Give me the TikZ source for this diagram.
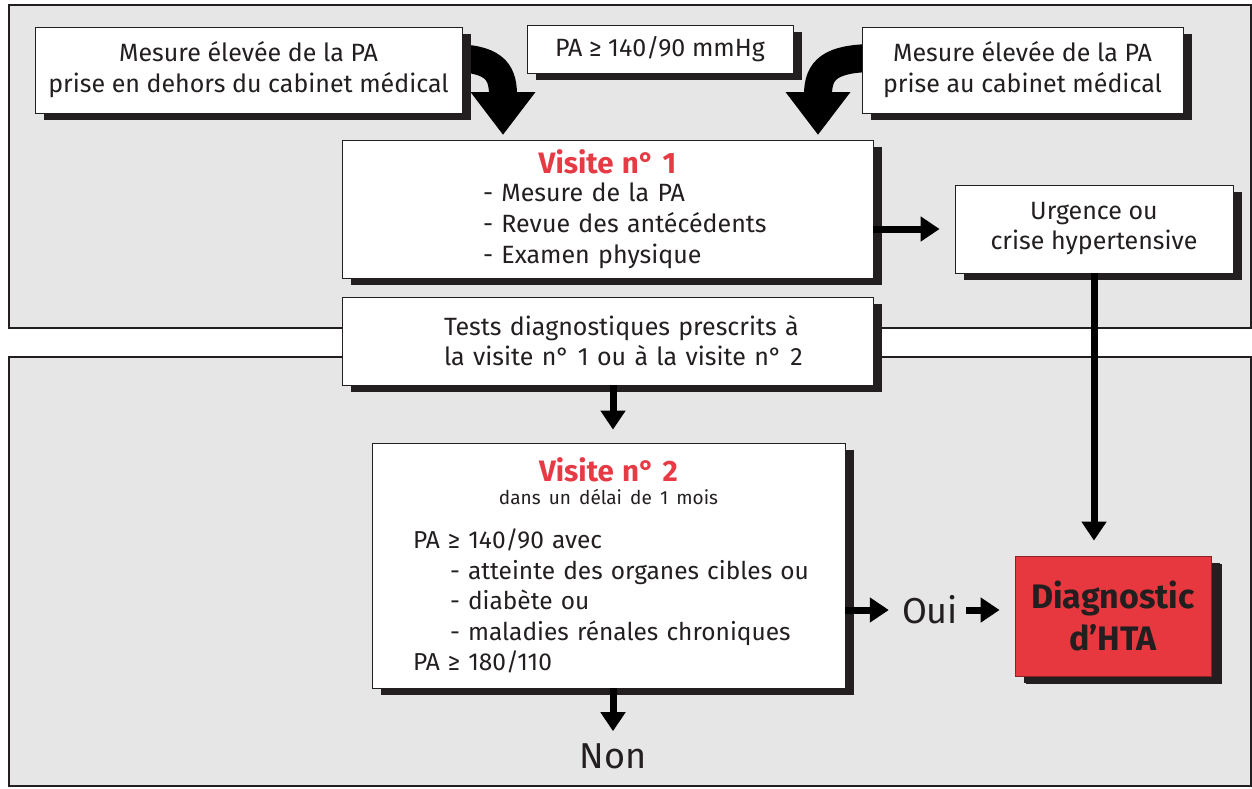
\documentclass[tikz,border=0pt]{standalone}
\usepackage{fontspec}
\setmainfont{Fira Sans}
\usetikzlibrary{arrows.meta,shadows,calc,positioning}
\definecolor{panelgrey}{HTML}{E6E6E6}
\definecolor{shade}{HTML}{231F20}
\definecolor{visitred}{HTML}{E63A44}
\definecolor{diagred}{HTML}{E8383F}
\newcommand{\titre}[1]{{\color{visitred}\bfseries\fontsize{29.5}{31}\selectfont #1}}

\begin{document}
\begin{tikzpicture}[x=1pt,y=-1pt]

\tikzset{panel/.style={fill=panelgrey,draw=shade,line width=1.5pt},
box/.style={fill=white,draw=shade,line width=0.8pt,inner sep=0pt,align=center,text=shade,font=\fontsize{25}{31}\selectfont,
  drop shadow={shadow xshift=9pt,shadow yshift=-7pt,fill=shade,opacity=1}},
flow/.style={line width=7pt,draw=black,-{Triangle[length=19pt,width=24pt]}},
bigflow/.style={line width=28pt,draw=black,-{Triangle[length=43pt,width=62pt]}},
answer/.style={inner sep=0pt,text=shade,font=\fontsize{36}{40}\selectfont}}

\useasboundingbox (0,0) rectangle (1252,788);

% Panels
\draw[panel] (9,5) rectangle (1251,328);
\draw[panel] (9,357) rectangle (1251,786);

% Curved arrows
\coordinate (tipL) at (503,135);
\coordinate (tipR) at (818,135);
\draw[bigflow] (450,58) .. controls (492,58) and (503,70) .. (tipL);
\draw[bigflow] (875,58) .. controls (830,58) and (818,70) .. (tipR);

% Boxes
\node[box,minimum width=427pt,minimum height=86pt] (hors) at (248.5,70) {Mesure élevée de la PA\\prise en dehors du cabinet médical};
\node[box,minimum width=266pt,minimum height=48pt] (seuil) at (660,49) {PA ≥ 140/90 mmHg};
\node[box,minimum width=321pt,minimum height=86pt] (cab) at (1022.5,70) {Mesure élevée de la PA\\prise au cabinet médical};
\node[box,minimum height=138pt,text width=531pt,align=left] (v1) at (607.5,209) {\noindent\makebox[\hsize]{\titre{Visite n° 1}}\\[-3pt]
  \hspace*{141pt}- Mesure de la PA\\
  \hspace*{141pt}- Revue des antécédents\\
  \hspace*{141pt}- Examen physique};
\node[box,minimum width=278pt,minimum height=88pt,font=\fontsize{25}{30}\selectfont] (urg) at (1094,229) {Urgence ou\\crise hypertensive};
\node[box,minimum height=88pt,text width=531pt,align=left,font=\fontsize{25}{30}\selectfont] (tests) at (607.5,341) {\noindent\hspace*{102pt}Tests diagnostiques prescrits à\\
  \hspace*{102pt}la visite n° 1 ou à la visite n° 2};
\node[box,minimum height=245pt,text width=473pt,align=left,font=\fontsize{24.5}{30.5}\selectfont] (v2) at (608.5,565.5) {\noindent\makebox[\hsize]{\titre{Visite n° 2}}\\[-8pt]
  \makebox[\hsize]{\fontsize{19}{22}\selectfont dans un délai de 1 mois}\\[14pt]
  \hspace*{41pt}PA ≥ 140/90 avec\\
  \hspace*{78pt}- atteinte des organes cibles ou\\
  \hspace*{78pt}- diabète ou\\
  \hspace*{78pt}- maladies rénales chroniques\\
  \hspace*{41pt}PA ≥ 180/110};
\node[box,fill=diagred,draw=diagred!60!black,minimum width=196pt,minimum height=120pt,font=\bfseries\fontsize{34}{42}\selectfont,
  drop shadow={shadow xshift=11pt,shadow yshift=-8pt,fill=shade,opacity=1}] (diag) at (1113,616) {Diagnostic\\d’HTA};
\node[answer] (oui) at (930,610) {Oui};
\node[answer] (non) at (613,756) {Non};

% Connectors
\draw[flow] (v1.east |- urg.west) -- ([xshift=-15pt]urg.west);
\draw[flow] (urg.south) -- ([yshift=15pt]diag.north -| urg.south);
\draw[flow] ([xshift=4.5pt]v2.north |- tests.south) -- ([xshift=4.5pt,yshift=13pt]v2.north);
\draw[flow] ([xshift=4.5pt]v2.south) -- ([xshift=4.5pt,yshift=12pt]non.north -| v2.south);
\draw[flow] (v2.east |- oui.west) -- ([xshift=-13pt]oui.west);
\draw[flow] ([xshift=8pt]oui.east) -- ([xshift=-15pt]diag.west |- oui.east);

\end{tikzpicture}
\end{document}
